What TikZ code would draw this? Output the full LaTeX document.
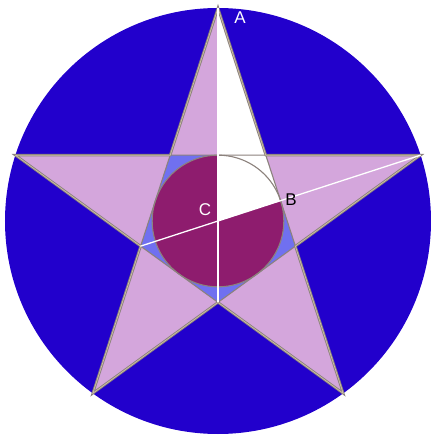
\documentclass[tikz,border=0pt]{standalone}
\usepackage{fontspec}
\setmainfont{Liberation Sans}
\usepackage{xcolor}
\definecolor{discblue}{RGB}{34,0,204}
\definecolor{starlilac}{RGB}{212,166,220}
\definecolor{pentblue}{RGB}{112,112,240}
\definecolor{innerplum}{RGB}{142,28,110}
\definecolor{rimgray}{RGB}{140,130,125}
\definecolor{rimtan}{RGB}{205,190,165}

\begin{document}
\begin{tikzpicture}[x=1pt, y=1pt,
  rim/.style={draw=rimgray, line width=0.9, double=rimtan, double distance=0.7},
  edge/.style={draw=rimgray, line width=1.1},
  ray/.style={draw=white, line width=1.3},
  lbl/.style={font=\fontsize{17}{20}\selectfont, inner sep=0}]
  \useasboundingbox (-218,-214) rectangle (212,221);
  % outer and inner corners of the star
  \foreach \k in {0,...,4} {
    \coordinate (O\k) at ({90+72*\k}:213);
    \coordinate (I\k) at ({126+72*\k}:81.36);
  }
  \coordinate (C) at (0,0);
  \coordinate (B) at (18:65.82);
  % disc, star, pentagon, inner circle
  \fill[discblue] (C) circle (213);
  \fill[starlilac] (O0) -- (I0) -- (O1) -- (I1) -- (O2) -- (I2) -- (O3) -- (I3) -- (O4) -- (I4) -- cycle;
  \fill[pentblue] (I0) -- (I1) -- (I2) -- (I3) -- (I4) -- cycle;
  \fill[innerplum] (C) circle (65.82);
  \fill[white] (O0) -- (I4) -- (B) -- (C) -- cycle;
  \draw[edge] (C) circle (65.82);
  \draw[edge] (I0) -- (I1) -- (I2) -- (I3) -- (I4) -- cycle;
  \draw[rim] (O0) -- (I0) -- (O1) -- (I1) -- (O2) -- (I2) -- (O3) -- (I3) -- (O4) -- (I4) -- cycle;
  % white rays through the centre
  \draw[ray] (O0) -- (I2);
  \draw[ray] (I1) -- (O4);
  \node[lbl, text=white] (labA) at (22,203) {A};
  \node[lbl, text=black] (labB) at (73,21) {B};
  \node[lbl, text=white] (labC) at (-13,11) {C};
\end{tikzpicture}
\end{document}
